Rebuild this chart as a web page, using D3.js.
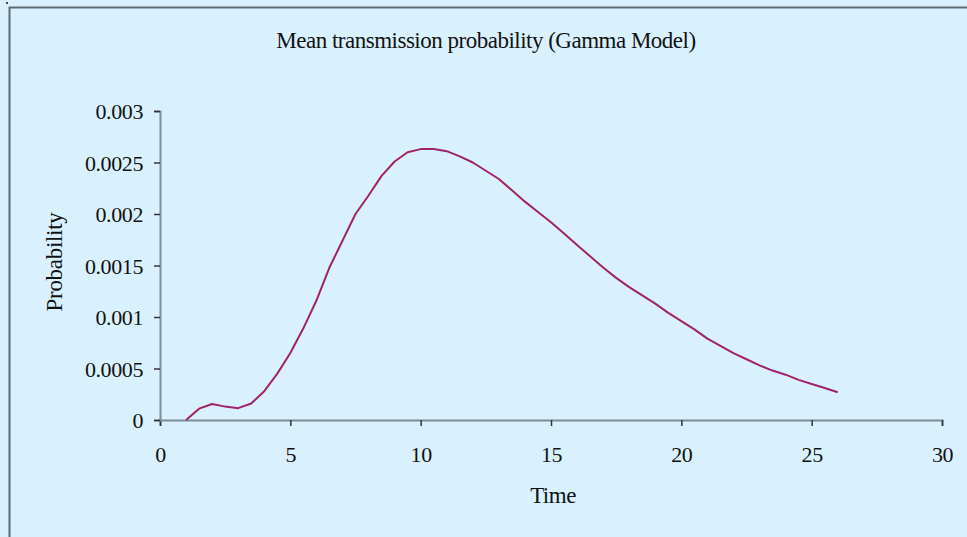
<!DOCTYPE html>
<html><head><meta charset="utf-8">
<script src="https://cdn.jsdelivr.net/npm/d3@7"></script>
<style>
html,body{margin:0;padding:0;background:#D9F1FF;}
svg{display:block;}
text{font-family:"Liberation Serif","Times New Roman",serif;fill:#111;}
</style></head>
<body>
<svg id="c" width="967" height="537"></svg>
<script>
const title = "Mean transmission probability (Gamma Model)";
const xLabel = "Time";
const yLabel = "Probability";
const times = [1,1.5,2,2.5,3,3.5,4,4.5,5,5.5,6,6.5,7,7.5,8,8.5,9,9.5,10,10.5,11,11.5,12,12.5,13,13.5,14,14.5,15,15.5,16,16.5,17,17.5,18,18.5,19,19.5,20,20.5,21,21.5,22,22.5,23,23.5,24,24.5,25,25.5,26];
const probs = [0,0.00011,0.000155,0.00013,0.000115,0.00016,0.00028,0.00045,0.00065,0.00089,0.00116,0.00148,0.00174,0.002,0.00218,0.00237,0.00251,0.0026,0.00263,0.00263,0.00261,0.00256,0.0025,0.00242,0.00234,0.00223,0.00212,0.00202,0.00192,0.00181,0.0017,0.00159,0.00148,0.00138,0.00129,0.00121,0.00113,0.00104,0.00096,0.00088,0.00079,0.00072,0.00065,0.00059,0.00053,0.00048,0.00044,0.00039,0.00035,0.00031,0.00027];
const xTicks = [0,5,10,15,20,25,30];
const yTicks = [0,0.0005,0.001,0.0015,0.002,0.0025,0.003];
const yTickLabels = ["0","0.0005","0.001","0.0015","0.002","0.0025","0.003"];

const svg = d3.select("#c");
// frame
svg.append("rect").attr("x",0).attr("y",0).attr("width",967).attr("height",537).attr("fill","#D9F1FF");
svg.append("path").attr("d","M9.5,540 V7.5 H970").attr("fill","none").attr("stroke","#5f6b72").attr("stroke-width",2);
svg.append("rect").attr("x",6).attr("y",2).attr("width",2).attr("height",2).attr("fill","#445");

const x = d3.scaleLinear().domain([0,30]).range([160,942]);
const y = d3.scaleLinear().domain([0,0.003]).range([420,111]);

const gx = svg.append("g").attr("transform","translate(0,420)")
  .call(d3.axisBottom(x).tickValues(xTicks).tickSize(6).tickPadding(20).tickFormat(d3.format("d")));
const gy = svg.append("g").attr("transform","translate(160,0)")
  .call(d3.axisLeft(y).tickValues(yTicks).tickSize(6).tickPadding(11).tickFormat((d,i)=>yTickLabels[i]));
[gx,gy].forEach(g=>{
  g.select(".domain").attr("stroke","#7d8c96").attr("stroke-width",2);
  g.selectAll(".tick line").attr("stroke","#333").attr("stroke-width",1.5);
  g.selectAll(".tick text").style("font-family","'Liberation Serif',serif").style("font-size","22px").style("letter-spacing","-0.4px").attr("fill","#111");
});
gy.selectAll(".tick text").attr("dy","0.35em");

const line = d3.line().x((d,i)=>x(times[i])).y(d=>y(d));
svg.append("path").datum(probs).attr("d",line).attr("fill","none")
  .attr("stroke","#A0226E").attr("stroke-width",2).attr("stroke-linejoin","round");

svg.append("text").attr("x",486).attr("y",48).attr("text-anchor","middle").style("font-size","23px").style("letter-spacing","-0.5px").text(title);
svg.append("text").attr("x",553).attr("y",503).attr("text-anchor","middle").style("font-size","23px").style("letter-spacing","-0.5px").text(xLabel);
svg.append("text").attr("transform","translate(62,262) rotate(-90)").attr("text-anchor","middle").style("font-size","23px").style("letter-spacing","-0.3px").text(yLabel);
</script>
</body></html>
